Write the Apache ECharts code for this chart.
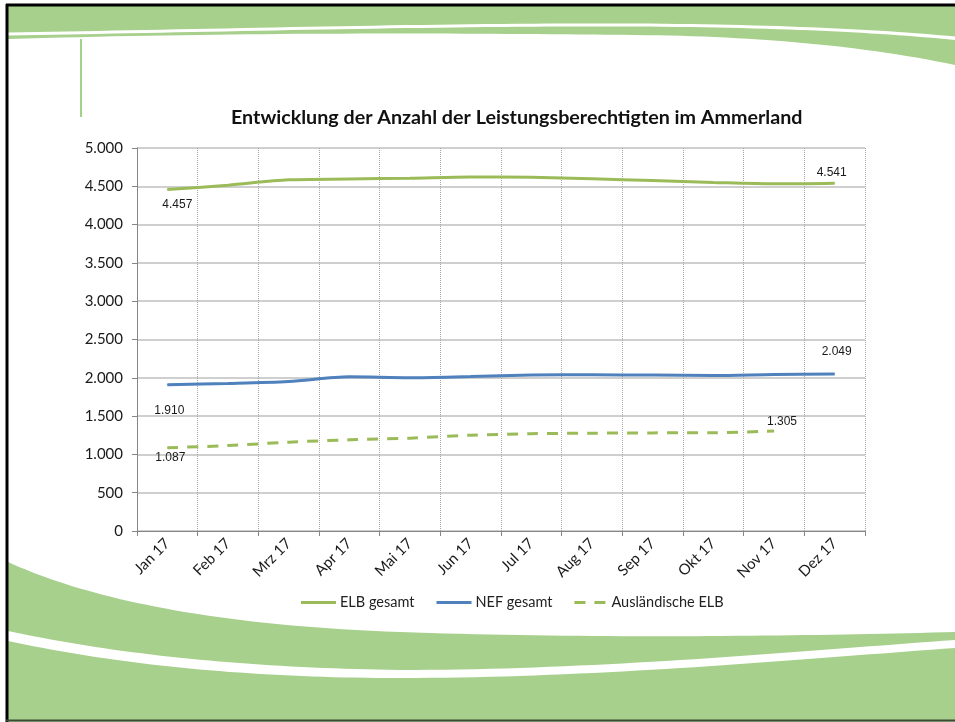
<!DOCTYPE html>
<html>
<head>
<meta charset="utf-8">
<script src="https://cdn.jsdelivr.net/npm/echarts@6/dist/echarts.min.js"></script>
<style>
  html, body { margin: 0; padding: 0; background: #fff; }
  #main { width: 955px; height: 722px; }
</style>
</head>
<body>
<div id="main"></div>
<script>
// Monate
const months = ['Jan 17', 'Feb 17', 'Mrz 17', 'Apr 17', 'Mai 17', 'Jun 17',
  'Jul 17', 'Aug 17', 'Sep 17', 'Okt 17', 'Nov 17', 'Dez 17'];
// Werte
const elbGesamt = [4457, 4515, 4584, 4595, 4606, 4622, 4617, 4598, 4575, 4550, 4532, 4541];
const nefGesamt = [1910, 1926, 1952, 2013, 2002, 2017, 2035, 2039, 2035, 2030, 2043, 2049];
const auslElb = [1087, 1115, 1160, 1190, 1212, 1251, 1270, 1277, 1281, 1283, 1305];
const yTicks = { min: 0, max: 5000, interval: 500 };

const green = '#9bbb59';
const blue = '#4f81bd';
const deco = '#a8d08d';

const fmt = (v) => String(v).replace(/\B(?=(\d{3})+(?!\d))/g, '.');

// nur erster und letzter Wert bekommen ein Label
const withLabels = (arr, first, last) => arr.map((v, i) => {
  if (i === 0) return { value: v, label: Object.assign({ show: true }, first) };
  if (i === arr.length - 1) return { value: v, label: Object.assign({ show: true }, last) };
  return v;
});

const labelStyle = {
  show: false,
  formatter: (p) => fmt(p.value),
  fontFamily: '"Liberation Sans", Arial, sans-serif',
  fontSize: 12,
  color: '#1a1a1a'
};

// Bezier-Punkte fuer die Deko-Wellen
function bez(p0, p1, p2, p3, n) {
  const pts = [];
  for (let i = 0; i <= n; i++) {
    const t = i / n, u = 1 - t;
    pts.push([
      u * u * u * p0[0] + 3 * u * u * t * p1[0] + 3 * u * t * t * p2[0] + t * t * t * p3[0],
      u * u * u * p0[1] + 3 * u * u * t * p1[1] + 3 * u * t * t * p2[1] + t * t * t * p3[1]
    ]);
  }
  return pts;
}

// oben
const topStripeHi = bez([8, 32.5], [200, 29.5], [450, 22.5], [635, 23.5], 40)
  .concat(bez([635, 23.5], [780, 24.5], [880, 29.5], [955, 36.5], 30));
const topStripeLo = bez([8, 35.5], [200, 32.5], [450, 25.5], [635, 26.5], 40)
  .concat(bez([635, 26.5], [780, 27.5], [880, 32.5], [955, 40], 30));
const topEdge = bez([955, 65], [860, 45], [750, 36], [635, 35], 30)
  .concat(bez([635, 35], [450, 33], [250, 32], [8, 39], 40));
const topBandA = [[8, 6], [955, 6]].concat(topStripeHi.slice().reverse());
const topBandB = topStripeLo.concat(topEdge);

// unten
const botEdge = bez([8, 562], [80, 595], [200, 625], [400, 632], 40)
  .concat(bez([400, 632], [600, 639], [800, 636], [955, 632], 40));
const botStripeHi = bez([8, 631], [120, 655], [250, 668], [400, 670], 40)
  .concat(bez([400, 670], [600, 670], [800, 651], [955, 640], 40));
const botStripeLo = bez([8, 641], [120, 665], [250, 678], [400, 678], 40)
  .concat(bez([400, 678], [600, 678], [800, 659], [955, 648], 40));
const botBandA = botEdge.concat(botStripeHi.slice().reverse());
const botBandB = botStripeLo.concat([[955, 722], [8, 722]]);

const chart = echarts.init(document.getElementById('main'));

const lineSeries = (name, values, color, dash, first, last) => ({
  name: name,
  type: 'line',
  smooth: 0.3,
  symbol: 'circle',
  symbolSize: 1,
  showSymbol: true,
  lineStyle: { color: color, width: 3, type: dash || 'solid' },
  itemStyle: { color: color },
  label: labelStyle,
  emphasis: { disabled: true },
  data: withLabels(values, first, last)
});

const decoPoly = (pts) => ({
  type: 'polygon', z: -10, silent: true,
  shape: { points: pts },
  style: { fill: deco, stroke: null }
});

const option = {
  backgroundColor: '#fff',
  animation: false,
  title: {
    text: 'Entwicklung der Anzahl der Leistungsberechtigten im Ammerland',
    left: 226,
    top: 103,
    textStyle: { fontFamily: 'Lato, sans-serif', fontWeight: 'bold', fontSize: 19.7, color: '#111' }
  },
  legend: {
    left: 296,
    top: 590,
    itemWidth: 35,
    itemHeight: 3,
    itemGap: 22,
    textStyle: { fontFamily: 'Lato, sans-serif', fontSize: 14.5, color: '#222', padding: [0, 0, 0, -1] },
    data: [
      { name: 'ELB gesamt', icon: 'rect', itemStyle: { color: green } },
      { name: 'NEF gesamt', icon: 'rect', itemStyle: { color: blue } },
      { name: 'Ausländische ELB', icon: 'path://M0,0h11v3h-11zM20,0h11v3h-11z', itemStyle: { color: green } }
    ]
  },
  grid: { left: 137, right: 90, top: 148, bottom: 191 },
  xAxis: {
    type: 'category',
    data: months,
    boundaryGap: true,
    axisLine: { lineStyle: { color: '#868686', width: 1 } },
    axisTick: { show: true, length: 5, lineStyle: { color: '#868686' } },
    axisLabel: {
      rotate: 45,
      margin: 10,
      fontFamily: 'Lato, sans-serif',
      fontSize: 15,
      color: '#1a1a1a'
    },
    splitLine: { show: true, lineStyle: { type: 'dotted', color: '#a6a6a6', width: 1 } }
  },
  yAxis: {
    type: 'value',
    min: yTicks.min,
    max: yTicks.max,
    interval: yTicks.interval,
    axisLine: { show: true, lineStyle: { color: '#868686', width: 1 } },
    axisTick: { show: true, length: 5, lineStyle: { color: '#868686' } },
    axisLabel: {
      margin: 14,
      formatter: fmt,
      fontFamily: 'Lato, sans-serif',
      fontSize: 15,
      color: '#1a1a1a'
    },
    splitLine: { show: true, lineStyle: { color: '#bfbfbf', width: 1.5 } }
  },
  series: [
    lineSeries('ELB gesamt', elbGesamt, green, null,
      { position: 'bottom', offset: [10, 4] },
      { position: 'top', offset: [-3, 1] }),
    lineSeries('NEF gesamt', nefGesamt, blue, null,
      { position: 'bottom', offset: [2, 14] },
      { position: 'top', offset: [2, -11] }),
    lineSeries('Ausländische ELB', auslElb, green, [11, 9],
      { position: 'bottom', offset: [3, -2] },
      { position: 'top', offset: [8, 2] })
  ],
  graphic: [
    // Deko-Wellen oben und unten
    decoPoly(topBandA),
    decoPoly(topBandB),
    decoPoly(botBandA),
    decoPoly(botBandB),
    {
      type: 'line', z: -9, silent: true,
      shape: { x1: 81, y1: 39, x2: 81, y2: 117 },
      style: { stroke: '#a2d18a', lineWidth: 2 }
    },
    // Rahmen
    {
      type: 'line', z: -8, silent: true,
      shape: { x1: 6, y1: 5, x2: 955, y2: 5 },
      style: { stroke: '#000', lineWidth: 3 }
    },
    {
      type: 'line', z: -8, silent: true,
      shape: { x1: 7, y1: 4, x2: 7, y2: 722 },
      style: { stroke: '#000', lineWidth: 3 }
    },
    {
      type: 'line', z: -8, silent: true,
      shape: { x1: 6, y1: 720.5, x2: 955, y2: 720.5 },
      style: { stroke: '#3d4a36', lineWidth: 2 }
    }
  ]
};

chart.setOption(option);
</script>
</body>
</html>
